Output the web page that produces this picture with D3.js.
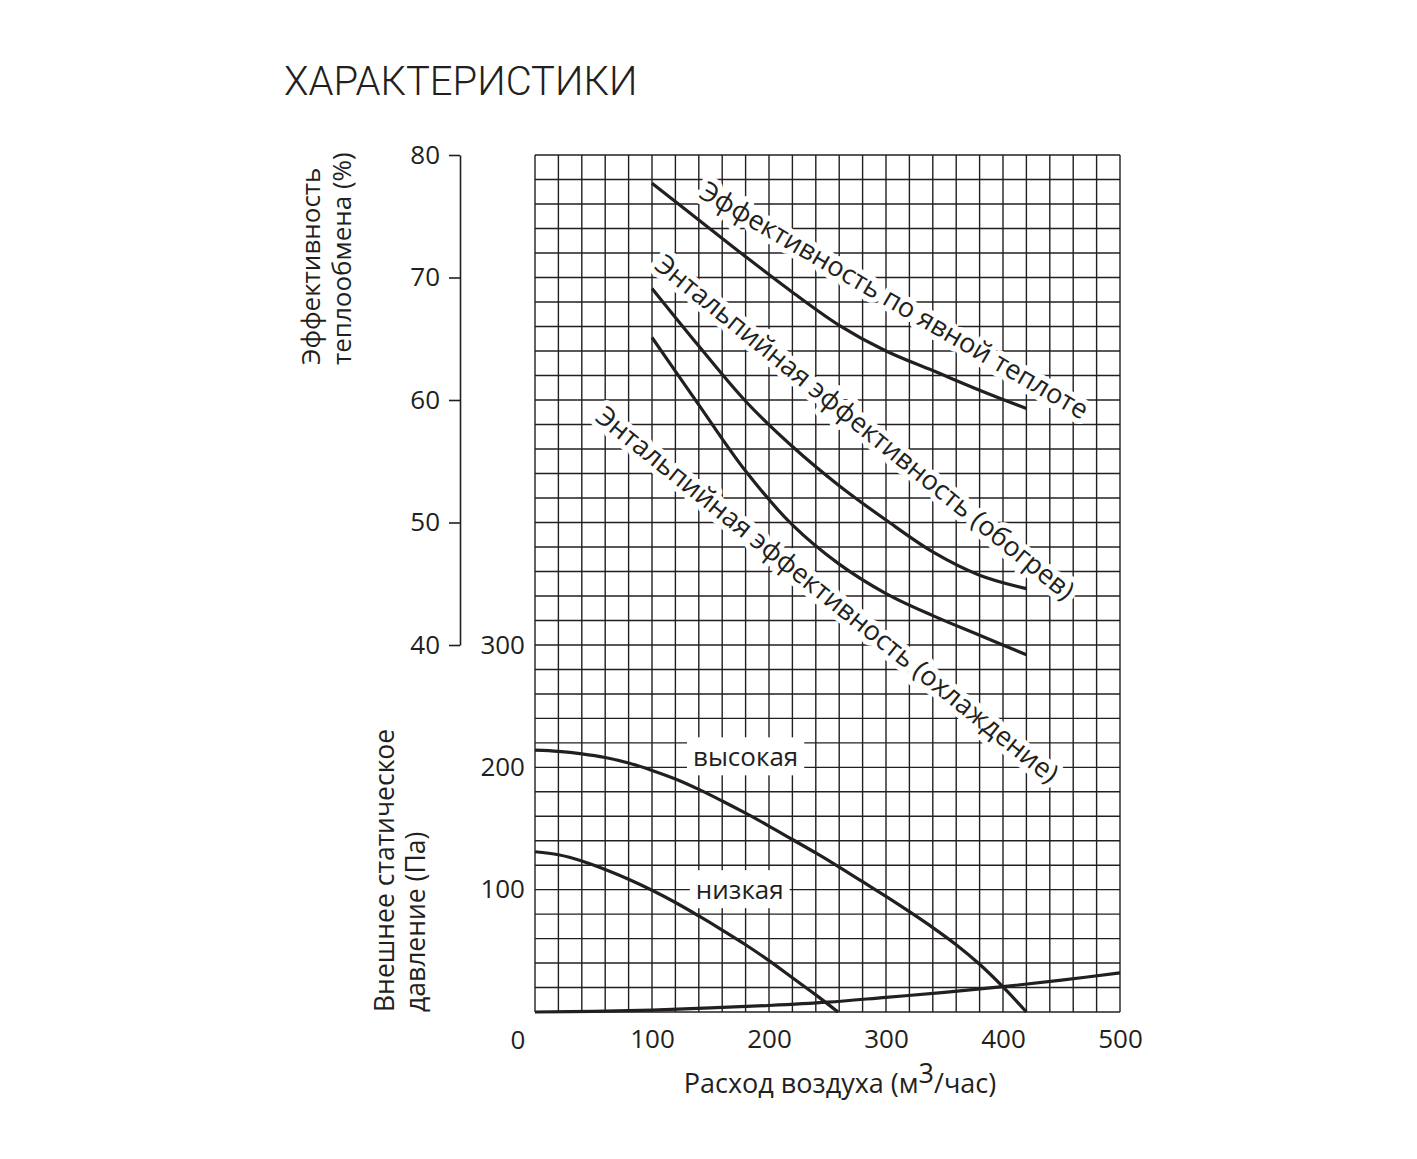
<!DOCTYPE html>
<html><head><meta charset="utf-8">
<script src="https://cdn.jsdelivr.net/npm/d3@7"></script>
<style>body{margin:0;background:#fff}text{font-family:"Open Sans",sans-serif;fill:#231f20}</style>
</head><body>
<script>
// ---- data ----
const title = "ХАРАКТЕРИСТИКИ";
const effTicks = [40, 50, 60, 70, 80];
const pressTicks = [100, 200, 300];
const flowTicks = [100, 200, 300, 400, 500];
const flowSteps = [100, 140, 180, 220, 260, 300, 340, 380, 420];
const effSensible = [77.7, 74.7, 71.7, 68.8, 66.1, 64.0, 62.4, 60.8, 59.3];
const effHeating  = [69.1, 64.4, 59.9, 56.2, 53.0, 50.2, 47.6, 45.7, 44.6];
const effCooling  = [65.1, 59.6, 54.2, 49.8, 46.6, 44.2, 42.4, 40.8, 39.2];
const flowHigh  = [0, 20, 40, 60, 80, 100, 120, 140, 160, 180, 200, 220, 240, 260, 280, 300, 320, 340, 360, 380, 400, 420];
const pressHigh = [214, 213, 211, 208, 203.5, 197.5, 190.5, 182, 172.5, 162.5, 152, 141, 130, 118.5, 106.5, 94.5, 82, 69, 55, 39, 20.5, 0];
const flowLow  = [0, 20, 40, 60, 80, 100, 120, 140, 160, 180, 200, 220, 240, 259];
const pressLow = [131, 128.5, 123.5, 116.5, 108.5, 99.5, 89.5, 78.5, 67, 55, 42, 28, 14, 0];
const flowDuct  = [0, 50, 100, 150, 200, 250, 300, 350, 400, 450, 500];
const pressDuct = [0, 0.5, 1.6, 3.3, 5.3, 8, 12, 16, 20.7, 26, 32];
const labelSensible = "Эффективность по явной теплоте";
const labelHeating = "Энтальпийная эффективность (обогрев)";
const labelCooling = "Энтальпийная эффективность (охлаждение)";
const labelHigh = "высокая";
const labelLow = "низкая";

// ---- drawing ----
const W = 1417, H = 1159;
const svg = d3.select("body").append("svg").attr("width", W).attr("height", H);
const ink = "#231f20";

const x = d3.scaleLinear([0, 500], [535, 1120]);
const yE = d3.scaleLinear([40, 80], [645, 155]);
const yP = d3.scaleLinear([0, 300], [1012, 645]);

// grid
const grid = svg.append("g").attr("stroke", ink).attr("stroke-width", 1.4);
d3.range(0, 501, 20).forEach(v => grid.append("line")
  .attr("x1", x(v)).attr("x2", x(v)).attr("y1", yE(80)).attr("y2", yP(0)));
d3.range(40, 81, 2).forEach(v => grid.append("line")
  .attr("x1", x(0)).attr("x2", x(500)).attr("y1", yE(v)).attr("y2", yE(v)));
d3.range(0, 300, 20).forEach(v => grid.append("line")
  .attr("x1", x(0)).attr("x2", x(500)).attr("y1", yP(v)).attr("y2", yP(v)));

// title
svg.append("text").attr("x", 284).attr("y", 95).attr("font-size", 40)
  .style("font-family", "Roboto, sans-serif").style("font-weight", 300).text(title);

// efficiency axis
const effAxis = svg.append("g").attr("transform", "translate(460,0)")
  .call(d3.axisLeft(yE).tickValues(effTicks).tickSize(11).tickPadding(9).tickSizeOuter(0));
effAxis.select(".domain").attr("stroke", ink).attr("stroke-width", 1.6);
effAxis.selectAll(".tick line").attr("stroke", ink).attr("stroke-width", 1.6);
effAxis.selectAll(".tick text").attr("font-size", 26).style("font-family", "'Open Sans',sans-serif").attr("fill", ink);

// pressure axis labels
const pAxis = svg.append("g").attr("transform", "translate(535,0)")
  .call(d3.axisLeft(yP).tickValues(pressTicks).tickSize(0).tickPadding(10));
pAxis.select(".domain").remove();
pAxis.selectAll(".tick text").attr("font-size", 26).style("font-family", "'Open Sans',sans-serif").attr("fill", ink);

// flow axis labels
const fAxis = svg.append("g").attr("transform", "translate(0,1012)")
  .call(d3.axisBottom(x).tickValues(flowTicks).tickSize(0).tickPadding(18));
fAxis.select(".domain").remove();
fAxis.selectAll(".tick text").attr("font-size", 26).style("font-family", "'Open Sans',sans-serif").attr("fill", ink);
svg.append("text").attr("x", x(0) - 17).attr("y", 1049).attr("text-anchor", "middle")
  .attr("font-size", 26).text("0");

// axis titles
const tE = svg.append("g").attr("transform", "translate(0,365) rotate(-90)");
tE.append("text").attr("x", 0).attr("y", 320).attr("font-size", 26).text("Эффективность");
tE.append("text").attr("x", 0).attr("y", 351).attr("font-size", 26).text("теплообмена (%)");
const tP = svg.append("g").attr("transform", "translate(0,1012) rotate(-90)");
tP.append("text").attr("x", 0).attr("y", 394).attr("font-size", 26.5).text("Внешнее статическое");
tP.append("text").attr("x", 0).attr("y", 425).attr("font-size", 26.5).text("давление (Па)");
const xt = svg.append("text").attr("x", 840).attr("y", 1093).attr("text-anchor", "middle").attr("font-size", 27);
xt.append("tspan").text("Расход воздуха (м");
xt.append("tspan").attr("dy", -10).text("3");
xt.append("tspan").attr("dy", 10).text("/час)");

// curves
const lineE = d3.line().x(d => x(d[0])).y(d => yE(d[1])).curve(d3.curveCatmullRom.alpha(0.5));
const lineP = d3.line().x(d => x(d[0])).y(d => yP(d[1])).curve(d3.curveCatmullRom.alpha(0.5));
const curves = svg.append("g").attr("fill", "none").attr("stroke", ink).attr("stroke-width", 3.2);
[effSensible, effHeating, effCooling].forEach(s =>
  curves.append("path").attr("d", lineE(flowSteps.map((f, i) => [f, s[i]]))));
curves.append("path").attr("d", lineP(flowHigh.map((f, i) => [f, pressHigh[i]])));
curves.append("path").attr("d", lineP(flowLow.map((f, i) => [f, pressLow[i]])));
curves.append("path").attr("d", lineP(flowDuct.map((f, i) => [f, pressDuct[i]])));

// curve labels with white halo
function rotLabel(txt, fx, fe, ang) {
  svg.append("text").attr("transform", `translate(${x(fx)},${yE(fe)}) rotate(${ang})`)
    .attr("font-size", 27).attr("stroke", "#fff").attr("stroke-width", 11)
    .attr("stroke-linejoin", "round").style("paint-order", "stroke").text(txt);
}
rotLabel(labelSensible, 139, 76.6, 30.2);
rotLabel(labelHeating, 101, 70.8, 39.0);
rotLabel(labelCooling, 50.4, 58.4, 38.7);

function boxLabel(txt, fx, fp) {
  const g = svg.append("g");
  const t = g.append("text").attr("x", x(fx)).attr("y", yP(fp)).attr("text-anchor", "middle")
    .attr("dominant-baseline", "central").attr("font-size", 26).text(txt);
  const b = t.node().getBBox();
  g.insert("rect", "text").attr("x", b.x - 6).attr("y", b.y - 1).attr("width", b.width + 12)
    .attr("height", b.height + 2).attr("fill", "#fff");
}
boxLabel(labelHigh, 180, 209);
boxLabel(labelLow, 175, 100.4);
</script>
</body></html>
